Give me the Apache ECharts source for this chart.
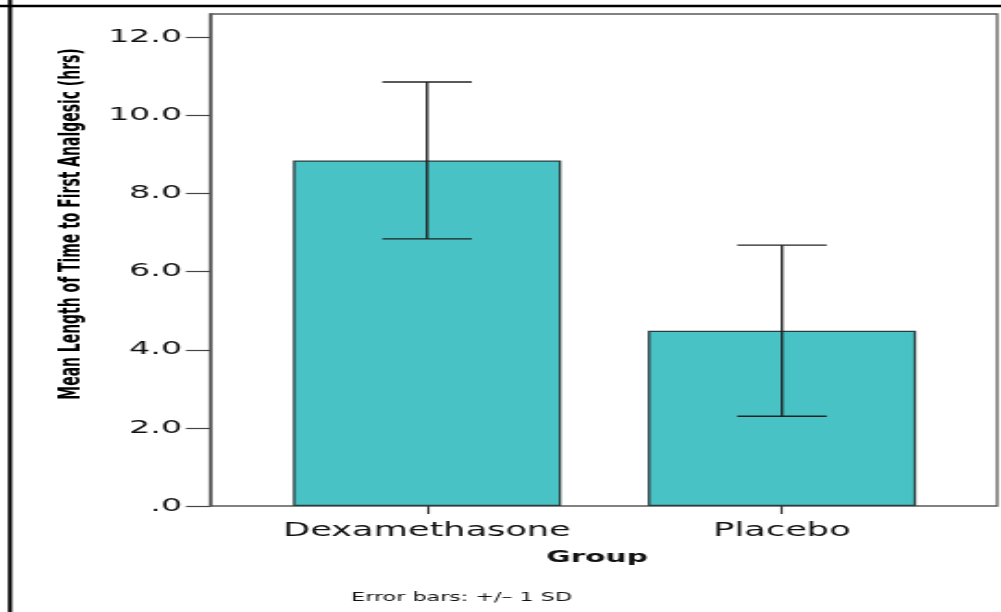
<!DOCTYPE html>
<html>
<head>
<meta charset="utf-8">
<script src="https://cdn.jsdelivr.net/npm/echarts@6/dist/echarts.min.js"></script>
<style>
  html, body { margin: 0; padding: 0; background: #fff; overflow: hidden; }
  /* the source picture is stretched sideways, so draw narrow and stretch */
  #main { width: 541px; height: 612px; transform: scaleX(1.85); transform-origin: 0 0; }
</style>
</head>
<body>
<div id="main"></div>
<script>
// values
const categories = ['Dexamethasone', 'Placebo']
const means = [8.85, 4.49]
const sds = [2.01, 2.19]
const yTickValues = [0, 2, 4, 6, 8, 10, 12]
const yTickLabels = ['.0', '2.0', '4.0', '6.0', '8.0', '10.0', '12.0']

const yMax = 12.6
const labelFont = 'DejaVu Sans'

const errorData = means.map((m, i) => [i, m - sds[i], m + sds[i]])

const chart = echarts.init(document.getElementById('main'))

const options = {
  animation: false,
  backgroundColor: '#fff',
  title: {
    text: 'Error bars: +/\u2013 1 SD',
    left: 244.5,
    top: 587,
    textAlign: 'center',
    textStyle: { fontFamily: labelFont, fontSize: 12, fontWeight: 'normal', color: '#111' }
  },
  graphic: [
    { type: 'line', shape: { x1: 5.4, y1: 0, x2: 5.4, y2: 612 }, style: { stroke: '#000', lineWidth: 2.2 } },
    { type: 'line', shape: { x1: 0, y1: 6, x2: 541, y2: 6 }, style: { stroke: '#000', lineWidth: 2.5 } }
  ],
  grid: [
    // frame
    { left: 113.5, right: 2, top: 14, bottom: 106, show: true, borderColor: '#5a5a5a', borderWidth: 1.3, backgroundColor: 'transparent' },
    // bars
    { left: 134.9, right: 22.4, top: 14, bottom: 106 }
  ],
  xAxis: [
    { gridIndex: 0, type: 'value', show: false, min: 0, max: 1 },
    {
      gridIndex: 1,
      type: 'category',
      data: categories,
      axisLine: { show: false },
      axisTick: { show: true, alignWithLabel: true, length: 8, lineStyle: { color: '#333', width: 1.2 } },
      axisLabel: { interval: 0, margin: 16, fontFamily: labelFont, fontSize: 19, color: '#111' },
      name: 'Group',
      nameLocation: 'middle',
      nameGap: 44,
      nameTextStyle: { fontFamily: labelFont, fontSize: 16, fontWeight: 'bold', color: '#111', padding: [0, 8, 0, 0] }
    }
  ],
  yAxis: [
    {
      gridIndex: 0,
      type: 'value',
      min: 0,
      max: yMax,
      interval: 2,
      splitLine: { show: false },
      axisLine: { show: true, lineStyle: { color: '#555', width: 1.6 } },
      axisTick: { show: true, length: 13, customValues: yTickValues, lineStyle: { color: '#444', width: 1.2 } },
      axisLabel: {
        margin: 15,
        customValues: yTickValues,
        fontFamily: labelFont,
        fontSize: 18,
        color: '#111',
        formatter: (v) => yTickLabels[yTickValues.indexOf(v)] || ''
      },
      name: 'Mean Length of Time to First Analgesic (hrs)',
      nameLocation: 'middle',
      nameGap: 67,
      nameTextStyle: {
        fontFamily: "'DejaVu Sans Condensed', 'Liberation Sans', sans-serif",
        fontSize: 15.5,
        fontWeight: 'bold',
        color: '#000',
        padding: [0, 0, 0, 72]
      }
    },
    { gridIndex: 1, type: 'value', show: false, min: 0, max: yMax }
  ],
  series: [
    {
      name: 'Mean',
      type: 'bar',
      xAxisIndex: 1,
      yAxisIndex: 1,
      data: means,
      barWidth: 145,
      itemStyle: { color: '#48c2c5', borderColor: '#2c3c3e', borderWidth: 1.3 }
    },
    {
      name: 'SD',
      type: 'custom',
      xAxisIndex: 1,
      yAxisIndex: 1,
      data: errorData,
      z: 5,
      renderItem: function (params, api) {
        const i = api.value(0)
        const lo = api.coord([i, api.value(1)])
        const hi = api.coord([i, api.value(2)])
        const half = api.size([1, 0])[0] * 0.126
        const style = { stroke: '#222', lineWidth: 1.4 }
        return {
          type: 'group',
          children: [
            { type: 'line', shape: { x1: lo[0], y1: lo[1], x2: hi[0], y2: hi[1] }, style },
            { type: 'line', shape: { x1: hi[0] - half, y1: hi[1], x2: hi[0] + half, y2: hi[1] }, style },
            { type: 'line', shape: { x1: lo[0] - half, y1: lo[1], x2: lo[0] + half, y2: lo[1] }, style }
          ]
        }
      }
    }
  ]
}

chart.setOption(options)
</script>
</body>
</html>
